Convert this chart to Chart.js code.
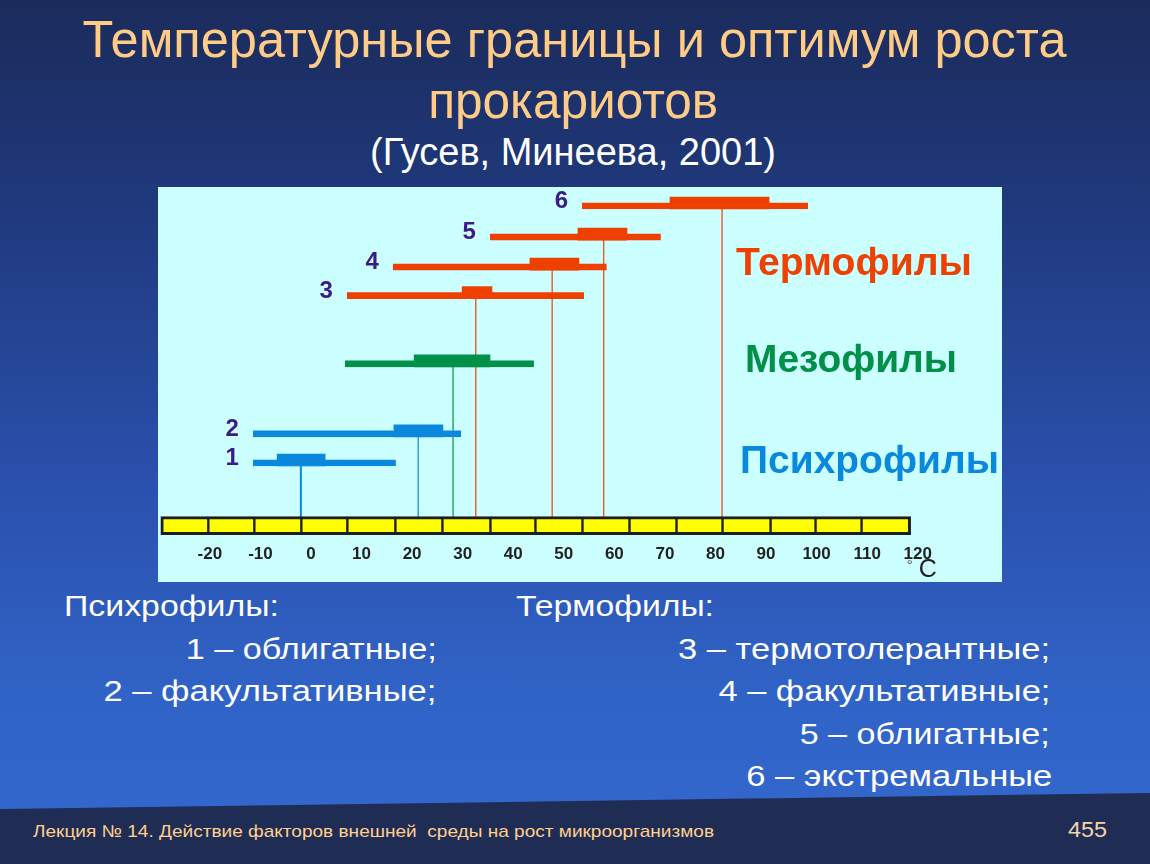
<!DOCTYPE html>
<html lang="ru">
<head>
<meta charset="utf-8">
<title>Температурные границы и оптимум роста прокариотов</title>
<script src="https://cdn.jsdelivr.net/npm/chart.js@4.4.1/dist/chart.umd.min.js"></script>
<style>
  html, body { margin: 0; padding: 0; }
  body {
    width: 1150px; height: 864px; overflow: hidden; position: relative;
    background: linear-gradient(to bottom, #1b2b5b 0%, #203a7e 25%, #2a50ac 55%, #3063c6 80%, #3468cf 100%);
    font-family: 'Liberation Sans', Arial, sans-serif;
  }
  #footer {
    position: absolute; left: 0; top: 0; width: 1150px; height: 864px;
    background: #1f2c54;
    clip-path: polygon(0 809px, 1150px 793px, 1150px 864px, 0 864px);
  }
  #panel {
    position: absolute; left: 158px; top: 187px; width: 844px; height: 395px;
    background: #ccffff;
  }
  #panel canvas { position: absolute; left: 0; top: 0; }
</style>
</head>
<body>
<div id="footer"></div>
<div id="panel"><canvas id="chart" width="844" height="395"></canvas></div>
<script>
// ---------- data (°C) ----------
const categories = ['1', '2', '', '3', '4', '5', '6'];
const groups     = ['psychro', 'psychro', 'meso', 'thermo', 'thermo', 'thermo', 'thermo'];
const rangeMin   = [-11.5, -11.5,  6.7,  7.1, 16.2, 35.4, 53.6];
const rangeMax   = [ 16.8,  29.7, 44.1, 54.0, 58.5, 69.2, 98.3];
const optLo      = [ -6.7,  16.4, 20.4, 29.9, 43.3, 52.8, 71.0];
const optHi      = [  2.8,  26.1, 35.4, 35.8, 53.0, 62.5, 90.6];
const optimum    = [ -2.0,  21.2, 28.1, 32.6, 47.7, 57.9, 81.3];
const rowLevel   = [ 6.55,  9.45, 16.45, 23.25, 26.1, 29.1, 32.2];
const tickValues = [-20, -10, 0, 10, 20, 30, 40, 50, 60, 70, 80, 90, 100, 110, 120];
const axisBounds = [-29.7, -20.4, -11.3, -2.0, 7.1, 16.6, 25.9, 35.4, 44.3, 53.6, 62.9, 72.2, 81.3, 90.8, 99.7, 108.8, 118.6];

// ---------- styles ----------
const groupColor = { psychro: '#0a88dd', meso: '#009048', thermo: '#ee4000' };
const colors = groups.map(g => groupColor[g]);
const FONT = "'Liberation Sans', Arial, sans-serif";

// ---------- text helper ----------
function txt(s, o) {
  const d = document.createElement('div');
  d.textContent = s;
  d.style.cssText = 'position:absolute;white-space:pre;line-height:1;' +
    'font-family:' + (o.font || FONT) + ';font-size:' + o.size + 'px;font-weight:' + (o.weight || 400) +
    ';color:' + o.color + ';top:' + (o.baseline - 0.8465 * o.size) + 'px;left:0px;';
  document.body.appendChild(d);
  const w = d.getBoundingClientRect().width;
  const k = o.width ? o.width / w : 1;
  let left;
  if (o.align === 'right') { left = o.x - w; d.style.transformOrigin = 'right center'; }
  else if (o.align === 'center') { left = o.x - w / 2; d.style.transformOrigin = 'center center'; }
  else { left = o.x; d.style.transformOrigin = 'left center'; }
  d.style.left = left + 'px';
  d.style.transform = 'scaleX(' + k + ')';
  return d;
}

const PEACH = '#ffcc88';
txt('Температурные границы и оптимум роста', { x: 575, align: 'center', baseline: 57, size: 52, width: 984, color: PEACH });
txt('прокариотов', { x: 573, align: 'center', baseline: 118, size: 52, width: 290, color: PEACH });
txt('(Гусев, Минеева, 2001)', { x: 573, align: 'center', baseline: 165, size: 38, width: 406, color: '#ffffff' });

txt('Психрофилы:', { x: 64, baseline: 617, size: 29, width: 215, color: '#ffffff' });
txt('1 – облигатные;', { x: 437, align: 'right', baseline: 660, size: 29, width: 251, color: '#ffffff' });
txt('2 – факультативные;', { x: 436, align: 'right', baseline: 702, size: 29, width: 333, color: '#ffffff' });
txt('Термофилы:', { x: 516, baseline: 617, size: 29, width: 198, color: '#ffffff' });
txt('3 – термотолерантные;', { x: 1050, align: 'right', baseline: 660, size: 29, width: 372, color: '#ffffff' });
txt('4 – факультативные;', { x: 1050, align: 'right', baseline: 702, size: 29, width: 332, color: '#ffffff' });
txt('5 – облигатные;', { x: 1050, align: 'right', baseline: 745, size: 29, width: 250, color: '#ffffff' });
txt('6 – экстремальные', { x: 1052, align: 'right', baseline: 787, size: 29, width: 306, color: '#ffffff' });

txt('Лекция № 14. Действие факторов внешней  среды на рост микроорганизмов', { x: 33, baseline: 837, size: 17, width: 681, color: '#ffd08e' });
txt('455', { x: 1068, baseline: 838, size: 22, width: 39, color: '#f3d6a8' });

// ---------- chart ----------
const bandData = (lo, hi) => categories.map((c, i) => ({ x: [lo[i], hi[i]], y: rowLevel[i] }));
const segData = axisBounds.slice(0, -1).map((b, i) => ({ x: [b, axisBounds[i + 1]], y: 0 }));

const dropSets = optimum.map((v, i) => ({
  type: 'scatter',
  data: [{ x: v, y: rowLevel[i] }, { x: v, y: 0 }],
  showLine: true,
  borderColor: colors[i],
  borderWidth: i === 0 ? 2 : 1.2,
  pointRadius: 0,
  order: 10
}));

const chart = new Chart(document.getElementById('chart'), {
  type: 'bar',
  data: {
    datasets: [
      ...dropSets,
      {
        type: 'bar', indexAxis: 'y', grouped: false, barThickness: 12,
        data: bandData(rangeMin, rangeMax),
        backgroundColor: 'rgba(0,0,0,0)',
        borderColor: colors,
        borderWidth: { top: 0, left: 0, right: 0, bottom: 6 },
        borderSkipped: false,
        order: 3
      },
      {
        type: 'bar', indexAxis: 'y', grouped: false, barThickness: 12,
        data: bandData(optLo, optHi),
        backgroundColor: colors,
        borderWidth: 0,
        order: 2
      },
      {
        type: 'bar', indexAxis: 'y', grouped: false, barThickness: 18,
        data: segData,
        backgroundColor: '#ffff00',
        borderColor: '#1e1e1e',
        borderSkipped: false,
        borderWidth: (ctx) => ({
          top: 3, bottom: 3,
          left: ctx.dataIndex === 0 ? 3 : 2,
          right: ctx.dataIndex === segData.length - 1 ? 3 : 1
        }),
        order: 1
      }
    ]
  },
  options: {
    responsive: false,
    animation: false,
    events: [],
    layout: { padding: { left: 1.3, right: 59, top: 0, bottom: 8 } },
    plugins: { legend: { display: false }, tooltip: { enabled: false } },
    scales: {
      x: {
        type: 'linear', min: -30, max: 125, offset: false,
        grid: { display: false, drawTicks: false, offset: false },
        border: { display: false },
        afterBuildTicks: (axis) => { axis.ticks = tickValues.map(v => ({ value: v })); },
        ticks: {
          padding: 9, autoSkip: false, maxRotation: 0,
          color: '#222222',
          font: { family: FONT, size: 17, weight: 'bold' },
          callback: (v) => String(v)
        }
      },
      y: {
        type: 'linear', min: -1, max: 33.8, offset: false, display: false,
        grid: { display: false, offset: false }
      }
    }
  }
});

// ---------- labels placed through the chart scales ----------
const PANEL_L = 158, PANEL_T = 187;
const xs = chart.scales.x, ys = chart.scales.y;
categories.forEach((c, i) => {
  if (!c) return;
  const px = xs.getPixelForValue(rangeMin[i]) + PANEL_L;
  const py = ys.getPixelForValue(rowLevel[i]) + PANEL_T - 3;
  const d = document.createElement('div');
  d.textContent = c;
  d.style.cssText = 'position:absolute;line-height:1;font-family:' + FONT +
    ';font-size:24px;font-weight:bold;color:#3c1a88;';
  document.body.appendChild(d);
  const w = d.getBoundingClientRect().width;
  d.style.left = (px - 14 - w) + 'px';
  d.style.top = (py - 11.7) + 'px';
});

// group names inside the panel
txt('Термофилы', { x: 736, baseline: 275, size: 39, weight: 'bold', width: 236, color: '#ee4000' });
txt('Мезофилы', { x: 745, baseline: 372, size: 39, weight: 'bold', width: 212, color: '#009048' });
txt('Психрофилы', { x: 740, baseline: 473, size: 39, weight: 'bold', width: 259, color: '#0a88dd' });

// unit °C next to the last tick
const x120 = xs.getPixelForValue(120) + PANEL_L;
const deg = document.createElement('div');
deg.textContent = '°';
deg.style.cssText = 'position:absolute;left:' + (x120 - 11) + 'px;top:557px;font-family:' + FONT + ';font-size:15px;line-height:1;color:#555;';
document.body.appendChild(deg);
const cel = document.createElement('div');
cel.textContent = 'C';
cel.style.cssText = 'position:absolute;left:' + (x120 + 1) + 'px;top:556px;font-family:' + FONT + ';font-size:25px;line-height:1;color:#222;';
document.body.appendChild(cel);
</script>
</body>
</html>
